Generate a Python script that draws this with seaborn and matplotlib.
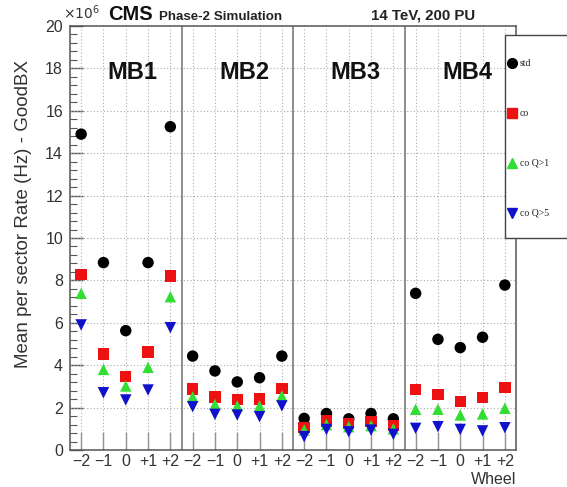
import numpy as np
import pandas as pd
import matplotlib
matplotlib.use("Agg")
import matplotlib.pyplot as plt
import seaborn as sns
from matplotlib.lines import Line2D
from matplotlib.patches import Rectangle
from matplotlib.ticker import MultipleLocator

# ---------------- data (rates in units of 10^6 Hz) ----------------
stations = ["MB1", "MB2", "MB3", "MB4"]
wheels = ["\u22122", "\u22121", "0", "+1", "+2"]
series_names = ["std", "co", "co Q>1", "co Q>5"]

rate_std = [14.9, 8.84, 5.63, 8.84, 15.25,
            4.43, 3.73, 3.21, 3.41, 4.43,
            1.49, 1.72, 1.47, 1.72, 1.47,
            7.39, 5.22, 4.83, 5.32, 7.78]
rate_co = [8.29, 4.53, 3.46, 4.62, 8.21,
           2.88, 2.51, 2.39, 2.40, 2.89,
           1.07, 1.37, 1.26, 1.34, 1.15,
           2.86, 2.63, 2.28, 2.47, 2.94]
rate_q1 = [7.39, 3.80, 3.02, 3.90, 7.23,
           2.51, 2.15, 2.08, 2.08, 2.55,
           0.95, 1.20, 1.10, 1.15, 1.00,
           1.92, 1.92, 1.65, 1.70, 1.97]
rate_q5 = [5.90, 2.70, 2.36, 2.83, 5.77,
           2.04, 1.68, 1.65, 1.57, 2.08,
           0.63, 0.97, 0.86, 0.94, 0.74,
           1.02, 1.10, 0.97, 0.90, 1.05]

colors = {"std": "#000000", "co": "#ee1111", "co Q>1": "#33dd33", "co Q>5": "#1111cc"}
markers = {"std": "o", "co": "s", "co Q>1": "^", "co Q>5": "v"}

# ---------------- build long table ----------------
n = len(stations) * len(wheels)
pos = list(range(n))
rows = []
for name, vals in zip(series_names, [rate_std, rate_co, rate_q1, rate_q5]):
    for p, v in zip(pos, vals):
        rows.append({"pos": p, "rate": v, "series": name})
df = pd.DataFrame(rows)

sns.set_theme(style="white")
plt.rcParams["font.family"] = ["Liberation Sans", "DejaVu Sans"]

fig = plt.figure(figsize=(5.67, 4.87), dpi=100)
ax = fig.add_axes([70 / 567, 37 / 487, 446 / 567, 424 / 487])

sns.scatterplot(data=df, x="pos", y="rate", hue="series", style="series",
                palette=colors, markers=markers, s=68, linewidth=0,
                legend=False, ax=ax, zorder=3)

ax.set_xlim(-0.5, n - 0.5)
ax.set_ylim(0, 20)

# grid
ax.yaxis.set_major_locator(MultipleLocator(2))
ax.yaxis.set_minor_locator(MultipleLocator(0.4))
ax.set_xticks(pos)
ax.set_xticklabels(wheels * len(stations))
ax.grid(False)
for y in range(2, 20, 2):
    ax.axhline(y, color="#aaaaaa", lw=0.8, ls=(0, (1, 2)), zorder=1)
for p in pos:
    ax.axvline(p, color="#aaaaaa", lw=0.8, ls=(0, (1, 2)), zorder=1)
for b in [4.5, 9.5, 14.5]:
    ax.axvline(b, color="#7a7a7a", lw=1.2, zorder=2)

ax.tick_params(axis="x", direction="in", length=13, width=1, color="#888888",
               labelsize=11.5, pad=3, bottom=True)
ax.tick_params(axis="y", which="major", direction="in", length=9, width=1,
               color="#555555", labelsize=11.5, pad=5, left=True)
ax.tick_params(axis="y", which="minor", direction="in", length=5, width=0.8,
               color="#555555", left=True)
for lab in ax.get_xticklabels() + ax.get_yticklabels():
    lab.set_color("#333333")

for s in ax.spines.values():
    s.set_color("#555555")
    s.set_linewidth(1.1)

ax.set_xlabel("")
ax.set_ylabel("Mean per sector Rate (Hz) - GoodBX", fontsize=13.5, color="#333333")
ax.yaxis.set_label_coords(-0.085, (450 - 214) / 424)

# station labels
for i, st in enumerate(stations):
    ax.text(i * 5 + 2.3, 17.8, st, ha="center", va="center",
            fontsize=17, fontweight="bold", color="#111111")

# header texts
fig.text(108 / 567, 1 - 20 / 487, "CMS", fontsize=14.5, fontweight="bold",
         ha="left", va="baseline", color="#111111")
fig.text(159 / 567, 1 - 20 / 487, "Phase-2 Simulation", fontsize=9.6,
         fontweight="bold", ha="left", va="baseline", color="#222222")
fig.text(475 / 567, 1 - 20 / 487, "14 TeV, 200 PU", fontsize=10.8,
         fontweight="bold", ha="right", va="baseline", color="#222222")
fig.text(63 / 567, 1 - 19 / 487, r"$\times10^{6}$", fontsize=10,
         ha="left", va="baseline", color="#333333")
fig.text(516 / 567, 1 - 484 / 487, "Wheel", fontsize=11.5, ha="right",
         va="baseline", color="#333333")

# legend box
fig.add_artist(Rectangle((505 / 567, 1 - 238 / 487), 0.2, 203 / 487,
                         transform=fig.transFigure, facecolor="white",
                         edgecolor="#444444", lw=1.0, zorder=10))
leg_y = [63, 113, 163, 213]
for name, yy in zip(series_names, leg_y):
    yf = 1 - yy / 487
    fig.add_artist(Line2D([512 / 567], [yf], marker=markers[name], color=colors[name],
                          markersize=7, linestyle="none", transform=fig.transFigure,
                          zorder=11))
    fig.text(520 / 567, yf, name, fontsize=7, family="Liberation Serif",
             ha="left", va="center", color="#222222", zorder=11)

fig.savefig("out.png", dpi=100)
